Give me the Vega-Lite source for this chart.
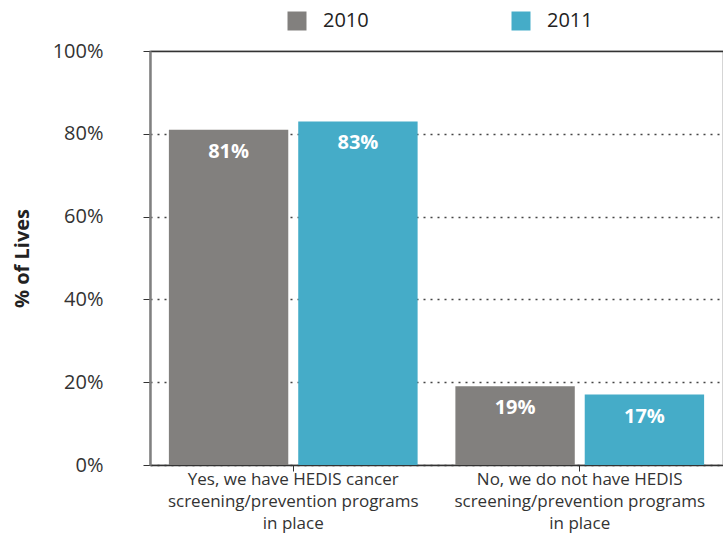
{
  "$schema": "https://vega.github.io/schema/vega-lite/v6.json",
  "autosize": "none",
  "width": 573,
  "height": 414,
  "padding": {"left": 150, "top": 51, "right": 0, "bottom": 72},
  "config": {
    "font": "Open Sans",
    "view": {"stroke": "#c8c8c8", "strokeWidth": 1.5}
  },
  "data": {
    "values": [
      {"answer": "Yes, we have HEDIS cancer|screening/prevention programs|in place", "year": "2010", "pct": 81},
      {"answer": "Yes, we have HEDIS cancer|screening/prevention programs|in place", "year": "2011", "pct": 83},
      {"answer": "No, we do not have HEDIS|screening/prevention programs|in place", "year": "2010", "pct": 19},
      {"answer": "No, we do not have HEDIS|screening/prevention programs|in place", "year": "2011", "pct": 17}
    ]
  },
  "encoding": {
    "x": {
      "field": "answer", "type": "nominal", "sort": null,
      "scale": {"paddingInner": 0, "paddingOuter": 0},
      "axis": {
        "title": null, "labelAngle": 0,
        "labelExpr": "split(datum.value, '|')",
        "labelFontSize": 17, "labelColor": "#333333", "labelLimit": 400,
        "labelLineHeight": 22, "labelPadding": 0,
        "domainColor": "#333333", "domainWidth": 1.5,
        "tickColor": "#333333", "tickSize": 6
      }
    },
    "xOffset": {"field": "year", "type": "nominal", "scale": {"paddingInner": 0.077, "paddingOuter": 0.146}},
    "y": {
      "field": "pct", "type": "quantitative",
      "scale": {"domain": [0, 100]},
      "axis": {
        "title": "% of Lives", "titleFontSize": 20, "titleFontWeight": "bold", "titleColor": "#222222", "titlePadding": 20,
        "values": [0, 20, 40, 60, 80, 100],
        "labelExpr": "datum.value + '%'",
        "labelFontSize": 20, "labelColor": "#333333", "labelPadding": 40,
        "tickSize": 7, "tickColor": "#333333",
        "domainColor": "#808080", "domainWidth": 2.5,
        "grid": true,
        "gridColor": {"condition": {"test": "datum.value == 100", "value": "#333333"}, "value": "#444444"},
        "gridDash": {"condition": {"test": "datum.value == 100", "value": []}, "value": [2, 5]},
        "gridWidth": 1.5
      }
    }
  },
  "layer": [
    {
      "mark": {"type": "bar"},
      "encoding": {
        "color": {
          "field": "year", "type": "nominal",
          "scale": {"domain": ["2010", "2011"], "range": ["#82807e", "#45acc8"]},
          "legend": {
            "title": null, "orient": "none", "direction": "horizontal",
            "legendX": 137, "legendY": -40,
            "symbolType": "square", "symbolSize": 361, "symbolStrokeWidth": 0,
            "labelFontSize": 20, "labelColor": "#222222", "labelOffset": 16,
            "columnPadding": 142
          }
        }
      }
    },
    {
      "transform": [{"calculate": "datum.pct + '%'", "as": "lab"}],
      "mark": {"type": "text", "color": "white", "fontSize": 20, "fontWeight": "bold", "baseline": "middle", "dy": 22},
      "encoding": {
        "text": {"field": "lab", "type": "nominal"},
        "detail": {"field": "year"}
      }
    }
  ]
}
